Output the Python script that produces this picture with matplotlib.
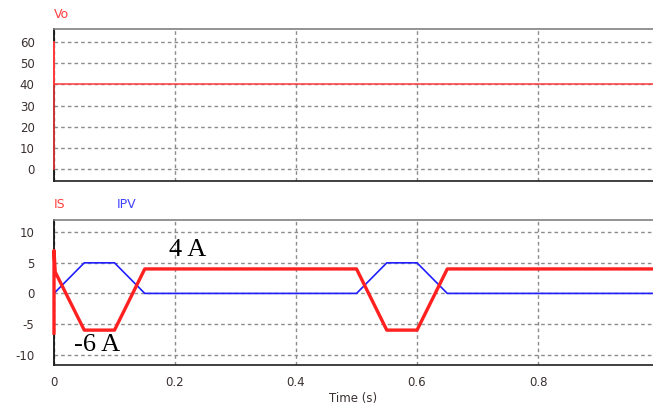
import matplotlib
matplotlib.use("Agg")
import matplotlib.pyplot as plt

plt.rcParams["axes.unicode_minus"] = False

# Vo trace (time in s, volts)
vo_t = [0.0, 0.0, 0.0, 1.0]
vo_v = [0.0, 60.0, 40.0, 40.0]

# IS trace (red, thick)
is_t = [0.0, 0.0, 0.002, 0.05, 0.10, 0.15, 0.50, 0.55, 0.60, 0.65, 1.0]
is_v = [-6.5, 7.0, 3.5, -6.0, -6.0, 4.0, 4.0, -6.0, -6.0, 4.0, 4.0]

# IPV trace (blue, thin)
ipv_t = [0.0, 0.05, 0.10, 0.15, 0.50, 0.55, 0.60, 0.65, 1.0]
ipv_v = [0.0, 5.0, 5.0, 0.0, 0.0, 5.0, 5.0, 0.0, 0.0]

vo_ticks = [0, 10, 20, 30, 40, 50, 60]
i_ticks = [-10, -5, 0, 5, 10]
x_ticks = [0, 0.2, 0.4, 0.6, 0.8]
x_labels = ["0", "0.2", "0.4", "0.6", "0.8"]

RED = "#ff2020"
BLUE = "#2020ff"
TICK_COLOR = "#3a3030"

fig = plt.figure(figsize=(6.53, 4.05), dpi=100)
ax_top = fig.add_axes([0.0827, 0.553, 0.9173, 0.375])
ax_bot = fig.add_axes([0.0827, 0.0988, 0.9173, 0.358])


def style_axes(ax, yticks):
    ax.set_xlim(0, 0.99)
    ax.set_xticks(x_ticks)
    ax.set_yticks(yticks)
    ax.grid(True, color="#8c8c8c", linestyle=(0, (2.6, 2.2)), linewidth=1.0)
    ax.tick_params(length=0, labelsize=8.5, colors=TICK_COLOR, pad=14)
    ax.tick_params(axis="x", pad=8)
    ax.spines["right"].set_visible(False)
    ax.spines["top"].set_color("#808080")
    ax.spines["left"].set_color("black")
    ax.spines["bottom"].set_color("#202020")
    for s in ax.spines.values():
        s.set_linewidth(1.2)


ax_top.plot(vo_t, vo_v, color="#ff3b3b", linewidth=1.1, clip_on=False, zorder=5)
style_axes(ax_top, vo_ticks)
ax_top.set_ylim(-5.7, 66.1)
ax_top.set_xticklabels([])

ax_bot.plot(ipv_t, ipv_v, color=BLUE, linewidth=1.2, zorder=4)
ax_bot.plot(is_t, is_v, color=RED, linewidth=2.4, zorder=5, clip_on=False)
style_axes(ax_bot, i_ticks)
ax_bot.set_ylim(-11.7, 12.0)
ax_bot.set_xticklabels(x_labels)
ax_bot.set_xlabel("Time (s)", fontsize=8.5, color=TICK_COLOR, labelpad=2)

fig.text(54 / 653, 1 - 14 / 405, "Vo", color="#ff4040", fontsize=9, va="center", ha="left")
fig.text(54 / 653, 1 - 205 / 405, "IS", color="#ff4040", fontsize=9, va="center", ha="left")
fig.text(117 / 653, 1 - 205 / 405, "IPV", color="#4040ff", fontsize=9, va="center", ha="left")

ax_bot.text(0.221, 7.1, "4 A", family="Liberation Serif", fontsize=19, ha="center", va="center")
ax_bot.text(0.071, -8.5, "-6 A", family="Liberation Serif", fontsize=19, ha="center", va="center")

fig.savefig("out.png", dpi=100)
